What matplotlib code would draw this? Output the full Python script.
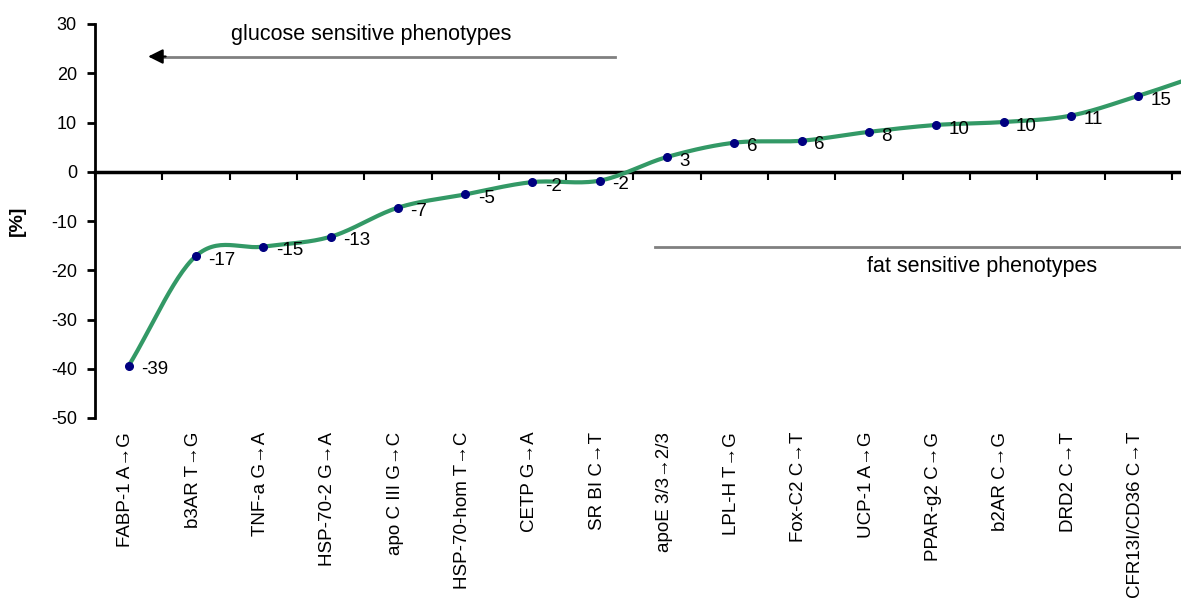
import numpy as np
import matplotlib
matplotlib.use('Agg')
import matplotlib.pyplot as plt
from matplotlib.transforms import blended_transform_factory

plt.rcParams['font.family'] = ['Liberation Sans', 'DejaVu Sans']

# data
genes = ['FABP-1 A\u2192G', 'b3AR T\u2192G', 'TNF-a G\u2192A', 'HSP-70-2 G\u2192A',
         'apo C III G\u2192C', 'HSP-70-hom T\u2192C', 'CETP G\u2192A', 'SR BI C\u2192T',
         'apoE 3/3\u21922/3', 'LPL-H T\u2192G', 'Fox-C2 C\u2192T', 'UCP-1 A\u2192G',
         'PPAR-g2 C\u2192G', 'b2AR C\u2192G', 'DRD2 C\u2192T', 'CFR13I/CD36 C\u2192T']
values = [-39.4, -17.1, -15.2, -13.2, -7.3, -4.6, -2.1, -1.8,
          3.0, 5.9, 6.3, 8.1, 9.5, 10.1, 11.4, 15.4]
# next point lies beyond the cropped right edge
hidden_value = 20.0

yticks = [-50, -40, -30, -20, -10, 0, 10, 20, 30]


def smooth(x, y, n=30):
    ''' Catmull-Rom curve through the points, like a smoothed Excel line '''
    x = np.asarray(x, float)
    y = np.asarray(y, float)
    px = np.concatenate([[2 * x[0] - x[1]], x, [2 * x[-1] - x[-2]]])
    py = np.concatenate([[2 * y[0] - y[1]], y, [2 * y[-1] - y[-2]]])
    xs, ys = [], []
    t = np.linspace(0, 1, n, endpoint=False)
    for i in range(1, len(px) - 2):
        for p, out in ((px, xs), (py, ys)):
            p0, p1, p2, p3 = p[i - 1], p[i], p[i + 1], p[i + 2]
            out.extend(0.5 * ((2 * p1) + (-p0 + p2) * t
                              + (2 * p0 - 5 * p1 + 4 * p2 - p3) * t ** 2
                              + (-p0 + 3 * p1 - 3 * p2 + p3) * t ** 3))
    xs.append(x[-1])
    ys.append(y[-1])
    return np.array(xs), np.array(ys)


fig = plt.figure(figsize=(11.81, 6.08), dpi=100)
ax = fig.add_axes([95 / 1181, 1 - 418 / 608, 1 - 95 / 1181, (418 - 24) / 608])

x = np.arange(len(genes))
all_x = np.arange(len(genes) + 1)
all_y = values + [hidden_value]
sx, sy = smooth(all_x, all_y)
ax.plot(sx, sy, color='#339966', lw=3, zorder=3)
ax.plot(x, values, 'o', color='#000080', ms=5.5, zorder=4)

for xi, v in zip(x, values):
    ax.annotate('%d' % round(v), (xi, v), xytext=(9, -3), textcoords='offset points',
                ha='left', va='center', fontsize=13.5, zorder=5)

ax.set_ylim(-50, 30)
ax.set_xlim(-0.5, -0.5 + (1181 - 95) / 67.3)
ax.set_yticks(yticks)
ax.set_yticklabels([str(t) for t in yticks], fontsize=13)
ax.tick_params(axis='y', direction='out', length=6, width=2, pad=7)

# x axis sits on the zero line, ticks between categories
ax.spines['top'].set_visible(False)
ax.spines['right'].set_visible(False)
ax.spines['left'].set_linewidth(2)
ax.spines['bottom'].set_position(('data', 0))
ax.spines['bottom'].set_linewidth(2.5)
ax.set_xticks(np.arange(len(genes) + 1) - 0.5)
ax.set_xticklabels([])
ax.tick_params(axis='x', direction='out', length=6, width=1.5)

trans = blended_transform_factory(ax.transData, ax.transAxes)
for xi, g in zip(x, genes):
    ax.text(xi - 0.04, -0.035, g, rotation=90, ha='center', va='top',
            fontsize=13.5, transform=trans)

ax.set_ylabel('[%]', fontsize=14, fontweight='bold', labelpad=18)

# phenotype arrows: grey shaft, black head
ax.plot([0.45, 7.23], [23.4, 23.4], color='#808080', lw=2)
ax.annotate('', xy=(0.29, 23.4), xytext=(0.55, 23.4),
            arrowprops=dict(arrowstyle='-|>', lw=1.5, mutation_scale=22,
                            shrinkA=0, shrinkB=0, color='black'))
ax.text(3.6, 27.8, 'glucose sensitive phenotypes', ha='center', va='center', fontsize=15.5)
ax.plot([7.82, 16.5], [-15.2, -15.2], color='#808080', lw=2, clip_on=True)
ax.text(12.68, -19.3, 'fat sensitive phenotypes', ha='center', va='center', fontsize=15.5)

plt.savefig('out.png', dpi=100)
plt.close()
